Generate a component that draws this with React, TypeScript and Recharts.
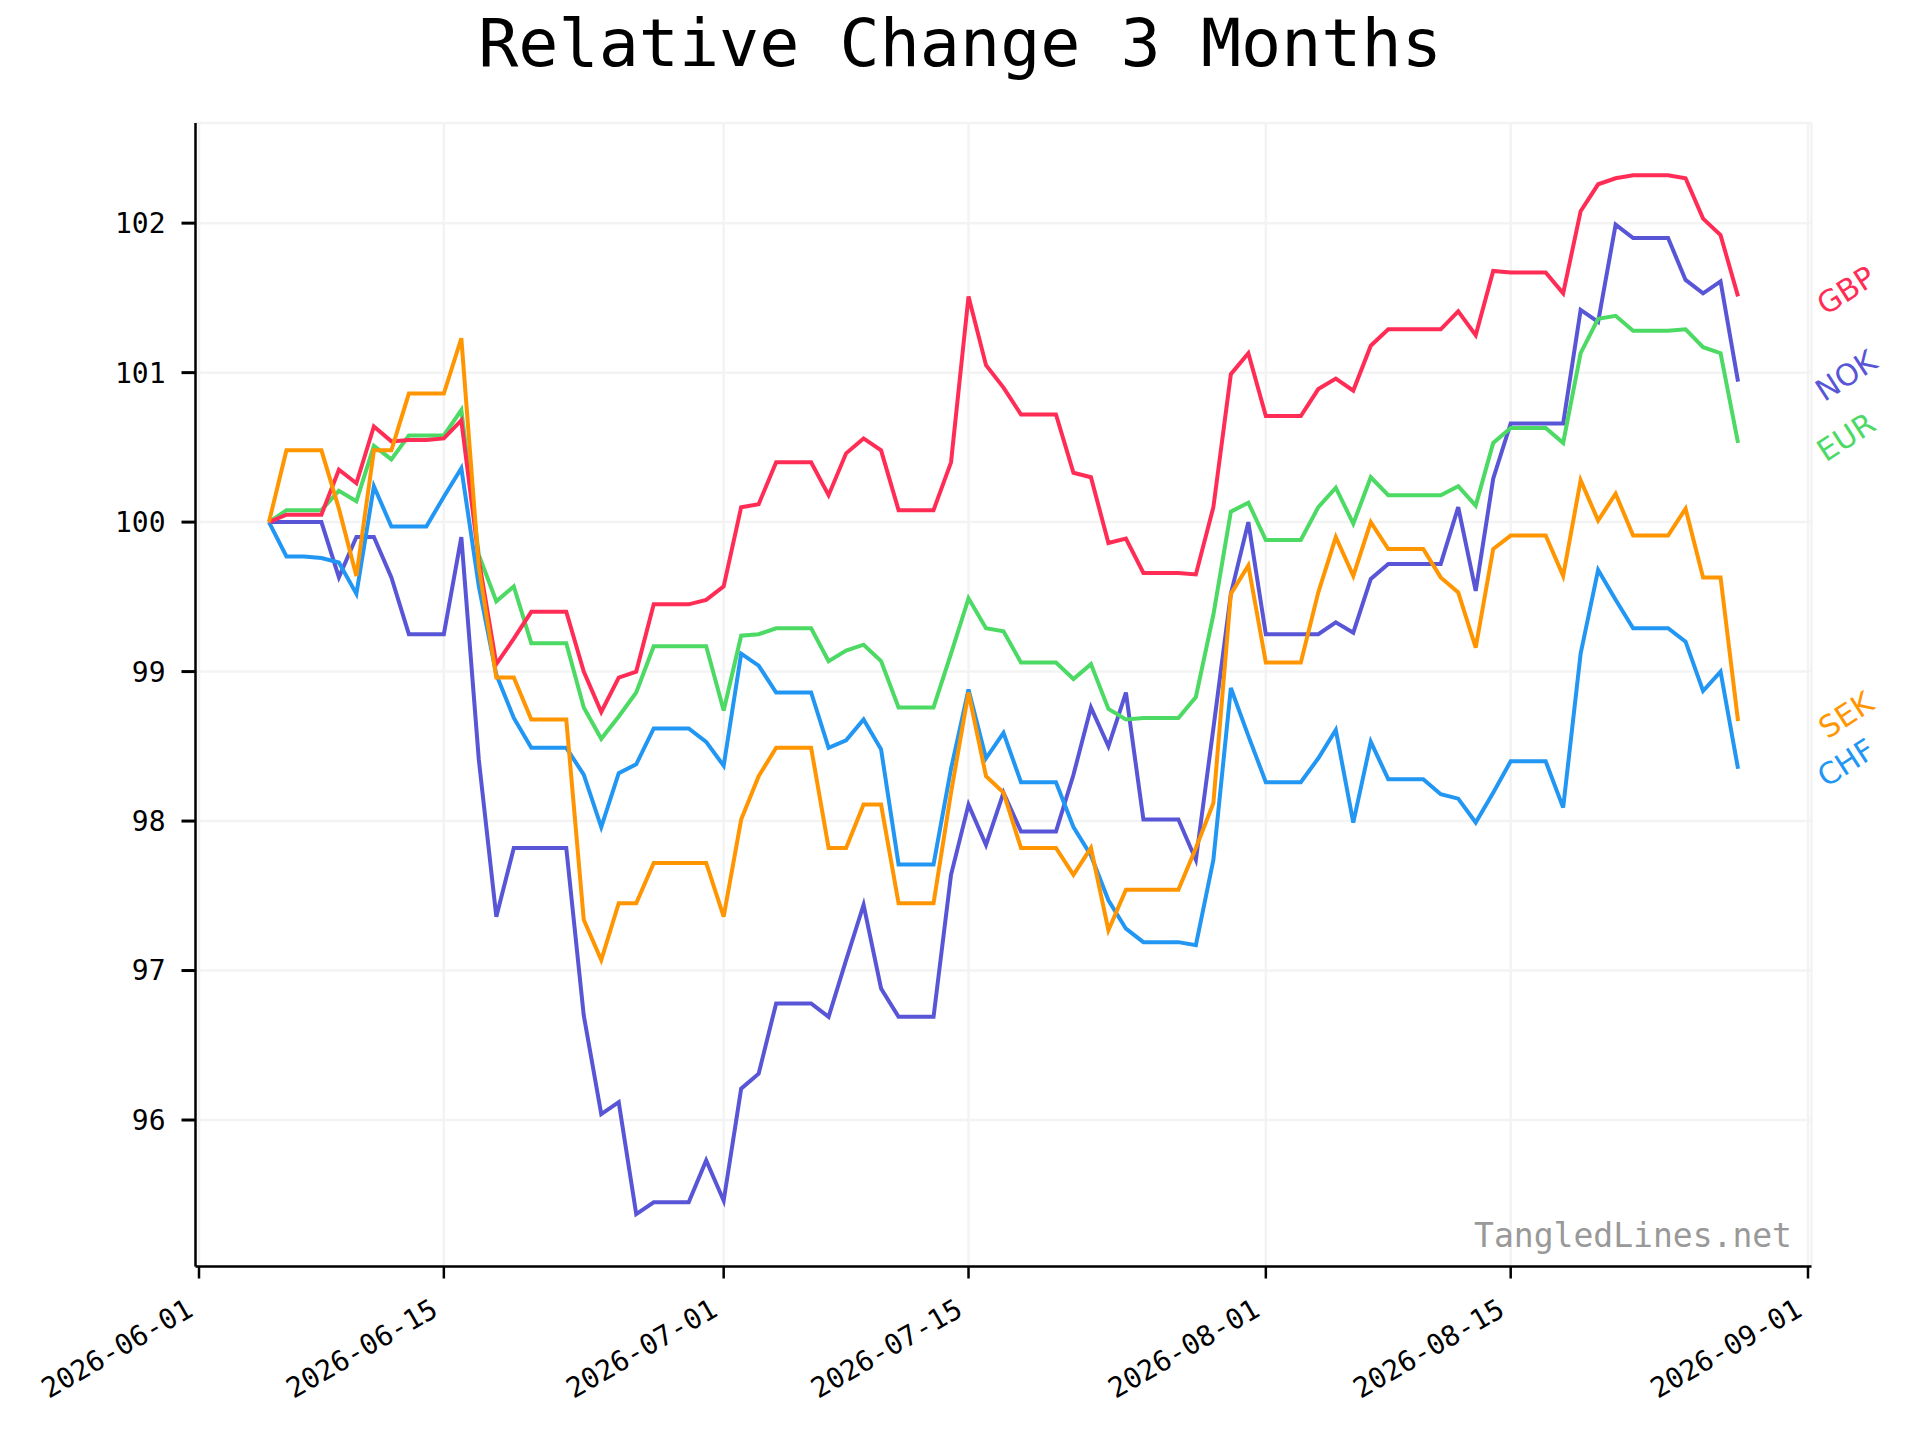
import { CartesianGrid, Line, LineChart, XAxis, YAxis } from "recharts";

const dates = [
  "2026-06-05", "2026-06-06", "2026-06-07", "2026-06-08", "2026-06-09", "2026-06-10", "2026-06-11",
  "2026-06-12", "2026-06-13", "2026-06-14", "2026-06-15", "2026-06-16", "2026-06-17", "2026-06-18",
  "2026-06-19", "2026-06-20", "2026-06-21", "2026-06-22", "2026-06-23", "2026-06-24", "2026-06-25",
  "2026-06-26", "2026-06-27", "2026-06-28", "2026-06-29", "2026-06-30",
  "2026-07-01", "2026-07-02", "2026-07-03", "2026-07-04", "2026-07-05", "2026-07-06", "2026-07-07",
  "2026-07-08", "2026-07-09", "2026-07-10", "2026-07-11", "2026-07-12", "2026-07-13", "2026-07-14",
  "2026-07-15", "2026-07-16", "2026-07-17", "2026-07-18", "2026-07-19", "2026-07-20", "2026-07-21",
  "2026-07-22", "2026-07-23", "2026-07-24", "2026-07-25", "2026-07-26", "2026-07-27", "2026-07-28",
  "2026-07-29", "2026-07-30", "2026-07-31",
  "2026-08-01", "2026-08-02", "2026-08-03", "2026-08-04", "2026-08-05", "2026-08-06", "2026-08-07",
  "2026-08-08", "2026-08-09", "2026-08-10", "2026-08-11", "2026-08-12", "2026-08-13", "2026-08-14",
  "2026-08-15", "2026-08-16", "2026-08-17", "2026-08-18", "2026-08-19", "2026-08-20", "2026-08-21",
  "2026-08-22", "2026-08-23", "2026-08-24", "2026-08-25", "2026-08-26", "2026-08-27", "2026-08-28",
];

const gbp = [
  100, 100.05, 100.05, 100.05, 100.35, 100.26, 100.64, 100.54, 100.55, 100.55, 100.56, 100.68, 99.75,
  99.05, 99.22, 99.4, 99.4, 99.4, 99.0, 98.73, 98.96, 99.0, 99.45, 99.45, 99.45, 99.48,
  99.57, 100.1, 100.12, 100.4, 100.4, 100.4, 100.18, 100.46, 100.56, 100.48, 100.08, 100.08, 100.08,
  100.4, 101.51, 101.05, 100.9, 100.72, 100.72, 100.72, 100.33, 100.3, 99.86, 99.89, 99.66, 99.66,
  99.66, 99.65, 100.1, 100.99, 101.13,
  100.71, 100.71, 100.71, 100.89, 100.96, 100.88, 101.18, 101.29, 101.29, 101.29, 101.29, 101.41,
  101.25, 101.68, 101.67, 101.67, 101.67, 101.53, 102.08, 102.26, 102.3, 102.32, 102.32, 102.32,
  102.3, 102.03, 101.92, 101.51,
];

const nok = [
  100, 100, 100, 100, 99.63, 99.9, 99.9, 99.63, 99.25, 99.25, 99.25, 99.9, 98.41, 97.36, 97.82,
  97.82, 97.82, 97.82, 96.7, 96.04, 96.12, 95.37, 95.45, 95.45, 95.45, 95.73,
  95.46, 96.21, 96.31, 96.78, 96.78, 96.78, 96.69, 97.07, 97.44, 96.88, 96.69, 96.69, 96.69, 97.64,
  98.11, 97.84, 98.19, 97.93, 97.93, 97.93, 98.31, 98.76, 98.5, 98.86, 98.01, 98.01, 98.01, 97.74,
  98.62, 99.52, 100.0,
  99.25, 99.25, 99.25, 99.25, 99.33, 99.26, 99.62, 99.72, 99.72, 99.72, 99.72, 100.1, 99.54, 100.29,
  100.66, 100.66, 100.66, 100.66, 101.42, 101.34, 101.99, 101.9, 101.9, 101.9, 101.62, 101.53,
  101.61, 100.94,
];

const eur = [
  100, 100.08, 100.08, 100.08, 100.21, 100.14, 100.51, 100.42, 100.58, 100.58, 100.58, 100.75, 99.78,
  99.47, 99.57, 99.19, 99.19, 99.19, 98.76, 98.55, 98.7, 98.86, 99.17, 99.17, 99.17, 99.17,
  98.74, 99.24, 99.25, 99.29, 99.29, 99.29, 99.07, 99.14, 99.18, 99.07, 98.76, 98.76, 98.76, 99.12,
  99.49, 99.29, 99.27, 99.06, 99.06, 99.06, 98.95, 99.05, 98.75, 98.68, 98.69, 98.69, 98.69, 98.83,
  99.38, 100.07, 100.13,
  99.88, 99.88, 99.88, 100.1, 100.23, 99.99, 100.3, 100.18, 100.18, 100.18, 100.18, 100.24, 100.11,
  100.53, 100.63, 100.63, 100.63, 100.53, 101.13, 101.36, 101.38, 101.28, 101.28, 101.28, 101.29,
  101.17, 101.13, 100.53,
];

const sek = [
  100, 100.48, 100.48, 100.48, 100.09, 99.64, 100.48, 100.48, 100.86, 100.86, 100.86, 101.23, 99.7,
  98.96, 98.96, 98.68, 98.68, 98.68, 97.34, 97.07, 97.45, 97.45, 97.72, 97.72, 97.72, 97.72,
  97.36, 98.01, 98.3, 98.49, 98.49, 98.49, 97.82, 97.82, 98.11, 98.11, 97.45, 97.45, 97.45, 98.19,
  98.86, 98.3, 98.19, 97.82, 97.82, 97.82, 97.64, 97.82, 97.27, 97.54, 97.54, 97.54, 97.54, 97.82,
  98.12, 99.52, 99.71,
  99.06, 99.06, 99.06, 99.53, 99.9, 99.64, 100.0, 99.82, 99.82, 99.82, 99.63, 99.53, 99.16, 99.82,
  99.91, 99.91, 99.91, 99.64, 100.28, 100.01, 100.19, 99.91, 99.91, 99.91, 100.09, 99.63, 99.63,
  98.67,
];

const chf = [
  100, 99.77, 99.77, 99.76, 99.73, 99.52, 100.24, 99.97, 99.97, 99.97, 100.17, 100.36, 99.57, 98.98,
  98.69, 98.49, 98.49, 98.49, 98.31, 97.96, 98.32, 98.38, 98.62, 98.62, 98.62, 98.53,
  98.37, 99.12, 99.04, 98.86, 98.86, 98.86, 98.49, 98.54, 98.68, 98.48, 97.71, 97.71, 97.71, 98.35,
  98.88, 98.42, 98.59, 98.26, 98.26, 98.26, 97.96, 97.77, 97.47, 97.28, 97.19, 97.19, 97.19, 97.17,
  97.74, 98.89, 98.57,
  98.26, 98.26, 98.26, 98.42, 98.61, 97.99, 98.53, 98.28, 98.28, 98.28, 98.18, 98.15, 97.99, 98.19,
  98.4, 98.4, 98.4, 98.09, 99.12, 99.68, 99.48, 99.29, 99.29, 99.29, 99.2, 98.87, 99.0, 98.35,
];

const xTickLabels = ["2026-06-01", "2026-06-15", "2026-07-01", "2026-07-15", "2026-08-01", "2026-08-15", "2026-09-01"];
const yTicks = [96, 97, 98, 99, 100, 101, 102];

const series = [
  { key: "NOK", values: nok, color: "#5856D6" },
  { key: "CHF", values: chf, color: "#2196F3" },
  { key: "EUR", values: eur, color: "#4CD964" },
  { key: "GBP", values: gbp, color: "#FF2D55" },
  { key: "SEK", values: sek, color: "#FF9500" },
];

const origin = Date.parse("2026-06-01");
const toDay = (d: string) => Math.round((Date.parse(d) - origin) / 86400000);

const data = dates.map((d, i) => {
  const row: any = { day: toDay(d) };
  series.forEach((s) => (row[s.key] = s.values[i]));
  return row;
});

const mono = "'DejaVu Sans Mono', monospace";
const sans = "'DejaVu Sans', sans-serif";

const XTick = (props: any) => {
  const { x, y, payload } = props;
  const label = xTickLabels.find((l) => toDay(l) === payload.value) ?? "";
  return (
    <g transform={`translate(${x - 9},${y + 26}) rotate(-30)`}>
      <text textAnchor="end" dominantBaseline="central" fontFamily={mono} fontSize={28} fill="#000">
        {label}
      </text>
    </g>
  );
};

const endLabel = (name: string, color: string) => (props: any) => {
  const { x, y, index } = props;
  if (index !== dates.length - 1) return null;
  return (
    <g transform={`translate(${x + 108},${y - 6}) rotate(-33)`}>
      <text textAnchor="middle" dominantBaseline="central" fontFamily={sans} fontSize={30} fill={color}>
        {name}
      </text>
    </g>
  );
};

export default function App() {
  return (
    <div style={{ position: "absolute", left: 0, top: 0, width: 1920, height: 1440, background: "#fff" }}>
      <div
        style={{
          position: "absolute",
          left: 0,
          top: 9.6,
          width: 1920,
          textAlign: "center",
          fontFamily: mono,
          fontSize: 66.7,
          lineHeight: 1,
          color: "#000",
          whiteSpace: "pre",
        }}
      >
        Relative Change 3 Months
      </div>
      <LineChart
        width={1920}
        height={1440}
        data={data}
        margin={{ top: 123, right: 108.5, bottom: 23.5, left: 115.5 }}
      >
        <CartesianGrid stroke="#f3f3f3" strokeWidth={2.5} />
        <XAxis
          type="number"
          dataKey="day"
          domain={[-0.2, 92.2]}
          ticks={xTickLabels.map(toDay)}
          interval={0}
          height={150}
          tick={<XTick />}
          tickSize={12}
          axisLine={{ stroke: "#000", strokeWidth: 2.5 }}
          tickLine={{ stroke: "#000", strokeWidth: 2.5 }}
        />
        <YAxis
          type="number"
          domain={[95.02, 102.67]}
          allowDataOverflow
          ticks={yTicks}
          interval={0}
          width={80}
          tickSize={14}
          tickMargin={16}
          tick={{ fontFamily: mono, fontSize: 28, fill: "#000" }}
          axisLine={{ stroke: "#000", strokeWidth: 2.5 }}
          tickLine={{ stroke: "#000", strokeWidth: 3 }}
        />
        {series.map((s) => (
          <Line
            key={s.key}
            type="linear"
            dataKey={s.key}
            stroke={s.color}
            strokeWidth={4}
            dot={false}
            activeDot={false}
            isAnimationActive={false}
            label={endLabel(s.key, s.color)}
          />
        ))}
      </LineChart>
      <div
        style={{
          position: "absolute",
          right: 128,
          top: 1218.6,
          fontFamily: mono,
          fontSize: 33,
          lineHeight: 1,
          color: "#999",
          whiteSpace: "pre",
        }}
      >
        TangledLines.net
      </div>
    </div>
  );
}
